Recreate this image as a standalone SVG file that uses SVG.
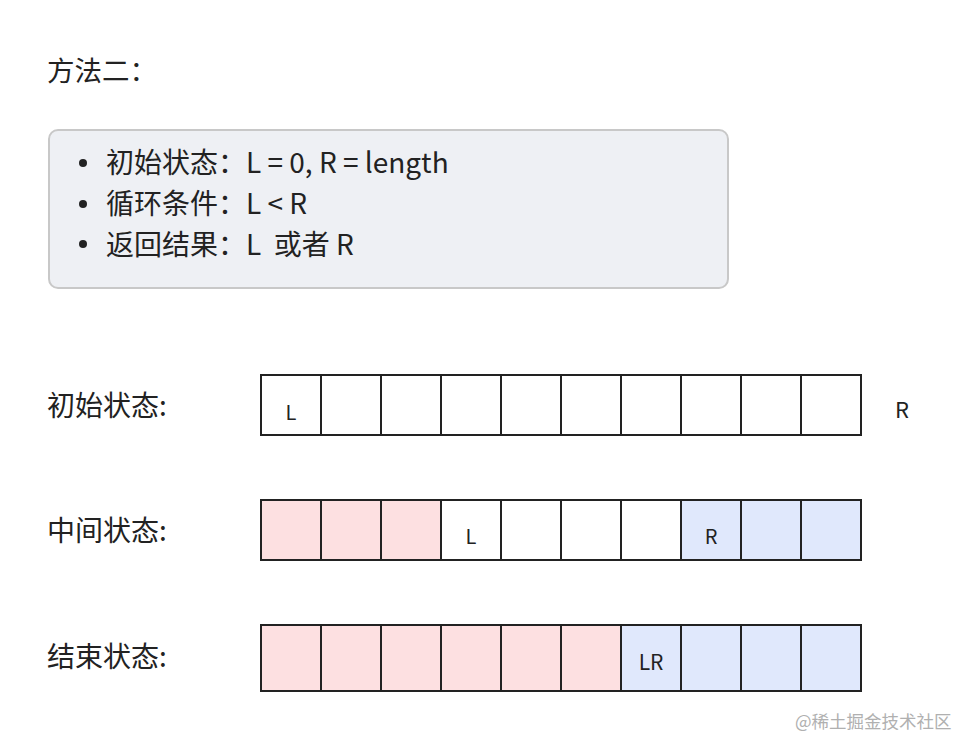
<svg xmlns="http://www.w3.org/2000/svg" width="960" height="740" viewBox="0 0 960 740">
<style>
text{font-family:"Noto Sans CJK SC","Noto Sans",sans-serif;fill:#222}
.h{font-size:28px}
.c{font-size:20px;text-anchor:middle;dominant-baseline:central}
.cell{stroke:#222;stroke-width:2}
.w{fill:#fff}.p{fill:#fde0e1}.b{fill:#e0e8fc}
.wm{font-size:17.5px;fill:#b0b0b0}
</style>
<rect width="960" height="740" fill="#fff"/>
<g id="title"><text class="h" x="47" y="81" style="font-size:27.5px">方法二：</text></g>
<g id="panel">
<rect x="49" y="130" width="679" height="158" rx="9" fill="#eef0f4" stroke="#c8c8c8" stroke-width="2"/>
<circle cx="83" cy="163" r="4" fill="#222"/><circle cx="83" cy="204" r="4" fill="#222"/><circle cx="83" cy="244" r="4" fill="#222"/>
<text class="h" x="106" y="173">初始状态：L = 0, R = length</text>
<text class="h" x="106" y="214">循环条件：L &lt; R</text>
<text class="h" x="106" y="255">返回结果：L&#160; 或者 R</text>
</g>
<g id="row1">
<text class="h" x="47" y="416">初始状态:</text>
<rect class="cell w" x="261" y="375" width="60" height="60"/>
<rect class="cell w" x="321" y="375" width="60" height="60"/>
<rect class="cell w" x="381" y="375" width="60" height="60"/>
<rect class="cell w" x="441" y="375" width="60" height="60"/>
<rect class="cell w" x="501" y="375" width="60" height="60"/>
<rect class="cell w" x="561" y="375" width="60" height="60"/>
<rect class="cell w" x="621" y="375" width="60" height="60"/>
<rect class="cell w" x="681" y="375" width="60" height="60"/>
<rect class="cell w" x="741" y="375" width="60" height="60"/>
<rect class="cell w" x="801" y="375" width="60" height="60"/>
<text class="c" x="291" y="411">L</text>
<text class="c" x="902" y="408" style="font-size:22px">R</text>
</g>
<g id="row2">
<text class="h" x="47" y="541">中间状态:</text>
<rect class="cell p" x="261" y="500" width="60" height="60"/>
<rect class="cell p" x="321" y="500" width="60" height="60"/>
<rect class="cell p" x="381" y="500" width="60" height="60"/>
<rect class="cell w" x="441" y="500" width="60" height="60"/>
<rect class="cell w" x="501" y="500" width="60" height="60"/>
<rect class="cell w" x="561" y="500" width="60" height="60"/>
<rect class="cell w" x="621" y="500" width="60" height="60"/>
<rect class="cell b" x="681" y="500" width="60" height="60"/>
<rect class="cell b" x="741" y="500" width="60" height="60"/>
<rect class="cell b" x="801" y="500" width="60" height="60"/>
<text class="c" x="471" y="535">L</text>
<text class="c" x="711" y="535">R</text>
</g>
<g id="row3">
<text class="h" x="47" y="667">结束状态:</text>
<rect class="cell p" x="261" y="625" width="60" height="66"/>
<rect class="cell p" x="321" y="625" width="60" height="66"/>
<rect class="cell p" x="381" y="625" width="60" height="66"/>
<rect class="cell p" x="441" y="625" width="60" height="66"/>
<rect class="cell p" x="501" y="625" width="60" height="66"/>
<rect class="cell p" x="561" y="625" width="60" height="66"/>
<rect class="cell b" x="621" y="625" width="60" height="66"/>
<rect class="cell b" x="681" y="625" width="60" height="66"/>
<rect class="cell b" x="741" y="625" width="60" height="66"/>
<rect class="cell b" x="801" y="625" width="60" height="66"/>
<text class="c" x="651" y="661" style="font-size:21px">LR</text>
</g>
<g id="connectors"></g>
<text class="wm" x="795" y="728">@稀土掘金技术社区</text>
</svg>
